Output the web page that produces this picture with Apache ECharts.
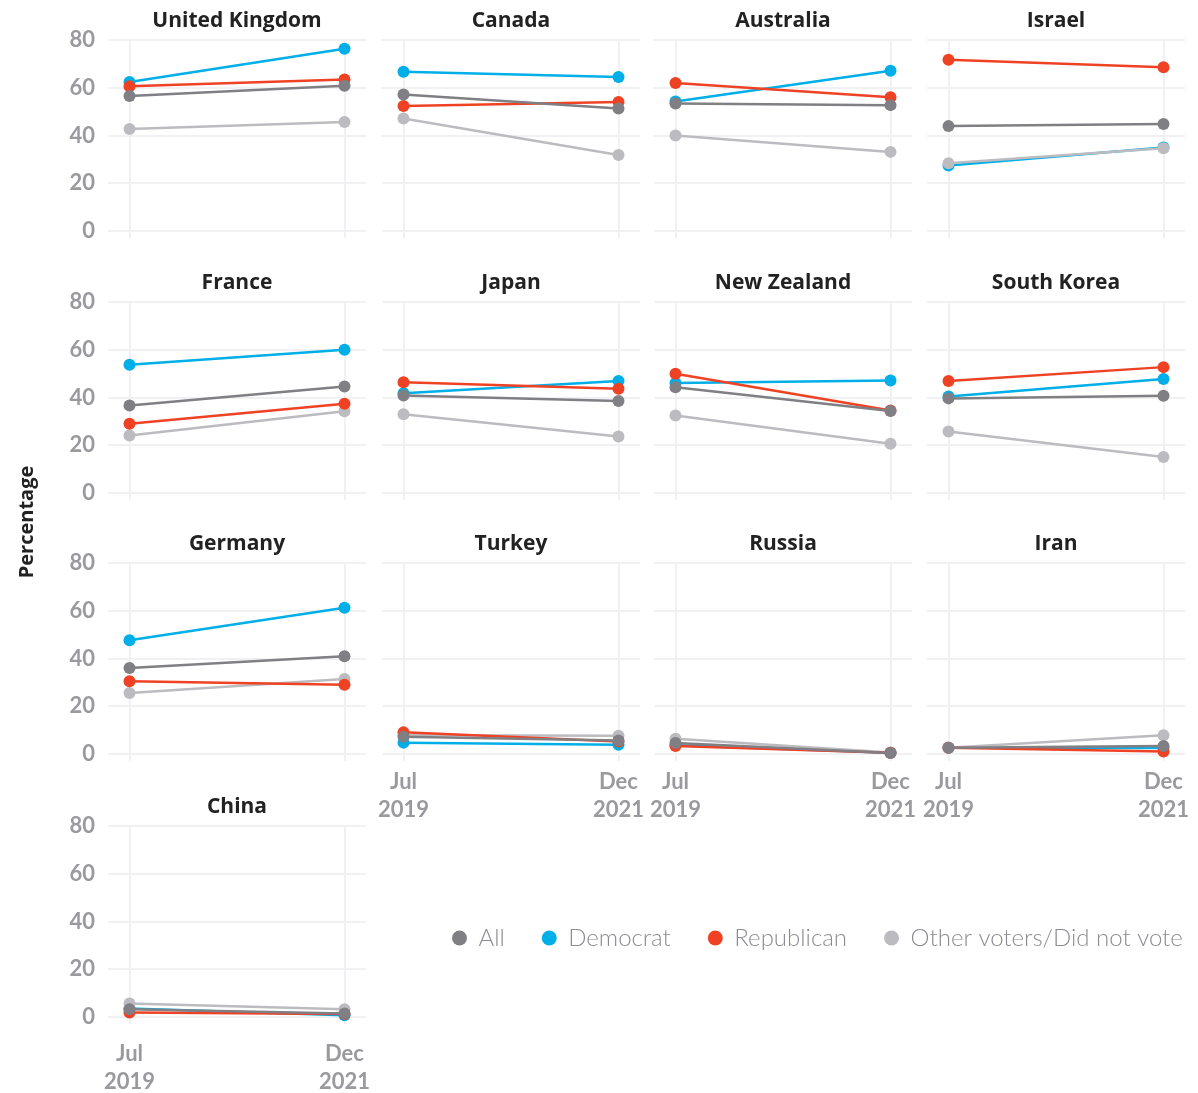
<!DOCTYPE html>
<html>
<head>
<meta charset="utf-8">
<script src="https://cdn.jsdelivr.net/npm/echarts@6/dist/echarts.min.js"></script>
<style>
  html, body { margin: 0; padding: 0; background: #ffffff; }
  #chart { width: 1198px; height: 1093px; }
</style>
</head>
<body>
<div id="chart"></div>
<script>
// data, one [Jul 2019, Dec 2021] pair per country
const countries = ['United Kingdom', 'Canada', 'Australia', 'Israel',
  'France', 'Japan', 'New Zealand', 'South Korea',
  'Germany', 'Turkey', 'Russia', 'Iran', 'China']
const periods = ['Jul\n2019', 'Dec\n2021']
const groups = ['All', 'Democrat', 'Republican', 'Other voters/Did not vote']
const allValues = [[56.5, 60.8], [57.2, 51.3], [53.4, 52.7], [43.9, 44.8],
  [36.6, 44.6], [40.8, 38.5], [44.3, 34.3], [39.6, 40.7],
  [36.0, 40.9], [7.2, 5.6], [4.5, 0.4], [2.6, 3.3], [3.2, 1.4]]
const demValues = [[62.4, 76.3], [66.7, 64.5], [54.2, 67.1], [27.4, 34.9],
  [53.7, 60.0], [41.8, 46.9], [46.0, 47.1], [40.4, 47.7],
  [47.6, 61.2], [4.7, 3.8], [3.6, 0.5], [2.6, 2.4], [3.5, 0.7]]
const repValues = [[60.6, 63.4], [52.3, 54.0], [62.0, 56.0], [71.7, 68.6],
  [29.0, 37.3], [46.4, 43.6], [49.9, 34.5], [46.9, 52.7],
  [30.4, 29.0], [9.0, 5.2], [3.3, 0.5], [2.6, 1.0], [1.8, 1.2]]
const otherValues = [[42.7, 45.6], [47.1, 31.8], [40.0, 33.1], [28.3, 34.6],
  [24.0, 34.2], [32.9, 23.6], [32.4, 20.6], [25.7, 15.0],
  [25.5, 31.4], [7.8, 7.6], [6.3, 0.6], [2.6, 7.8], [5.6, 3.2]]
const yTicks = [0, 20, 40, 60, 80]

const groupValues = [allValues, demValues, repValues, otherValues]
const groupColors = ['#7f7f84', '#00aee8', '#ef4224', '#bcbcc0']
const groupZ = [5, 2, 4, 3]

const colLeft = [108, 382, 654, 927]
const rowTop = [40, 302, 563, 826]
const panelW = 258
const panelH = 198
const font = 'Lato, "Open Sans", sans-serif'
const headFont = '"Open Sans", Lato, sans-serif'

const chart = echarts.init(document.getElementById('chart'))

const grids = []
const xAxes = []
const yAxes = []
const titles = []
const series = []

countries.forEach((name, i) => {
  const row = Math.floor(i / 4)
  const col = i % 4
  // x labels only on the lowest panel of each column
  const showX = (col === 0 && row === 3) || (col > 0 && row === 2)
  const showY = col === 0

  grids.push({
    left: colLeft[col],
    top: rowTop[row],
    width: panelW,
    height: panelH,
    outerBoundsMode: 'none'
  })

  xAxes.push({
    gridIndex: i,
    type: 'value',
    min: -0.1,
    max: 1.1,
    axisLine: { show: false },
    axisTick: { show: false, customValues: [0, 1] },
    axisLabel: {
      show: showX,
      customValues: [0, 1],
      formatter: v => periods[Math.round(v)],
      color: '#9a9a9e',
      fontFamily: font,
      fontWeight: 'bold',
      fontSize: 22,
      lineHeight: 28,
      margin: row === 3 ? 16 : 7
    },
    splitLine: { show: true, lineStyle: { color: '#f1f1f3', width: 2 } }
  })

  yAxes.push({
    gridIndex: i,
    type: 'value',
    min: -3,
    max: 80,
    axisLine: { show: false },
    axisTick: { show: false, customValues: yTicks },
    axisLabel: {
      show: showY,
      customValues: yTicks,
      color: '#9a9a9e',
      fontFamily: font,
      fontWeight: 'bold',
      fontSize: 22,
      margin: 13
    },
    splitLine: { show: true, lineStyle: { color: '#f1f1f3', width: 2 } }
  })

  titles.push({
    text: name,
    left: colLeft[col] + panelW / 2,
    top: rowTop[row] - 30,
    textAlign: 'center',
    padding: 0,
    textStyle: {
      fontFamily: headFont,
      fontWeight: 'bold',
      fontSize: 21,
      lineHeight: 22,
      color: '#222222'
    }
  })

  groups.forEach((g, k) => {
    series.push({
      name: g,
      type: 'line',
      xAxisIndex: i,
      yAxisIndex: i,
      z: groupZ[k],
      symbol: 'circle',
      symbolSize: 12,
      clip: false,
      lineStyle: { width: 2.5, color: groupColors[k] },
      itemStyle: { color: groupColors[k] },
      emphasis: { disabled: true },
      data: groupValues[k][i].map((v, j) => [j, v])
    })
  })
})

const option = {
  animation: false,
  backgroundColor: '#ffffff',
  title: titles,
  legend: {
    data: groups,
    left: 447,
    top: 921,
    icon: 'circle',
    itemWidth: 28,
    itemHeight: 15,
    itemGap: 37,
    textStyle: {
      fontFamily: font,
      fontWeight: 300,
      fontSize: 24,
      color: '#8c8c90'
    }
  },
  graphic: [{
    type: 'text',
    x: 27,
    y: 522,
    rotation: Math.PI / 2,
    style: {
      text: 'Percentage',
      font: 'bold 20px "Open Sans", Lato, sans-serif',
      fill: '#222222',
      textAlign: 'center',
      textVerticalAlign: 'middle'
    }
  }],
  grid: grids,
  xAxis: xAxes,
  yAxis: yAxes,
  series: series
}

chart.setOption(option)
</script>
</body>
</html>
